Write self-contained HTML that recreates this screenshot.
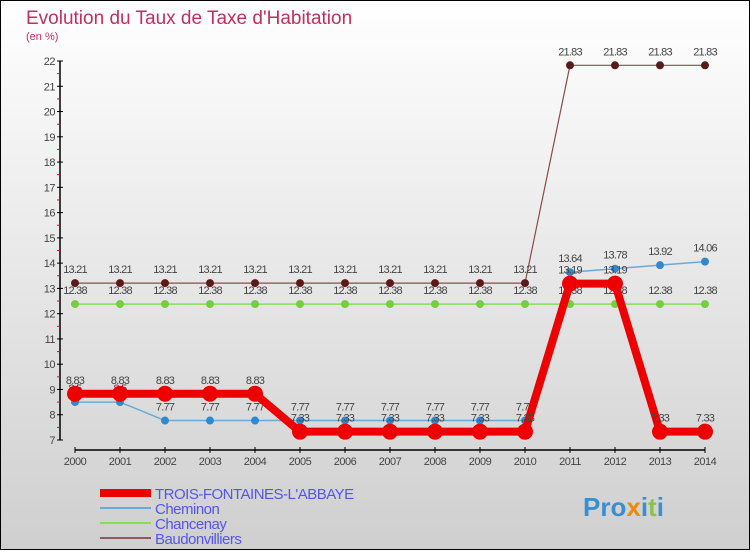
<!DOCTYPE html>
<html><head><meta charset="utf-8"><style>
html,body{margin:0;padding:0}
body{width:750px;height:550px;overflow:hidden;font-family:"Liberation Sans",sans-serif}
svg text{font-family:"Liberation Sans",sans-serif}
</style></head><body>
<svg id="chart" width="750" height="550" xmlns="http://www.w3.org/2000/svg">
<defs><linearGradient id="bg" x1="0" y1="0" x2="0" y2="1"><stop offset="0" stop-color="#ffffff"/><stop offset="1" stop-color="#cfcfcf"/></linearGradient></defs>
<rect x="0.5" y="0.5" width="749" height="549" fill="url(#bg)" stroke="#000"/>
<text x="26" y="24" font-size="19" fill="#c0305f">Evolution du Taux de Taxe d'Habitation</text>
<text x="26" y="40" font-size="11" fill="#c0305f">(en %)</text>
<g id="axes"></g>
<g id="series"></g>
<g id="legend"></g>
<text x="583" y="516" font-size="26" font-weight="bold" fill="#3a8fd0">Pro<tspan fill="#f08a00">x</tspan>i<tspan fill="#8bc34a">t</tspan>i</text>
</svg>
<script>
const years = [2000,2001,2002,2003,2004,2005,2006,2007,2008,2009,2010,2011,2012,2013,2014];
const yTicks = [7,8,9,10,11,12,13,14,15,16,17,18,19,20,21,22];
const trois = [8.83,8.83,8.83,8.83,8.83,7.33,7.33,7.33,7.33,7.33,7.33,13.19,13.19,7.33,7.33];
const cheminon = [8.5,8.5,7.77,7.77,7.77,7.77,7.77,7.77,7.77,7.77,7.77,13.64,13.78,13.92,14.06];
const chancenay = [12.38,12.38,12.38,12.38,12.38,12.38,12.38,12.38,12.38,12.38,12.38,12.38,12.38,12.38,12.38];
const baudon = [13.21,13.21,13.21,13.21,13.21,13.21,13.21,13.21,13.21,13.21,13.21,21.83,21.83,21.83,21.83];
const seriesNames = ["TROIS-FONTAINES-L'ABBAYE","Cheminon","Chancenay","Baudonvilliers"];

const NS="http://www.w3.org/2000/svg";
const xS=i=>75+i*45;
const yS=v=>440-(v-7)*(379/15);
function mk(tag,attrs,parent){const e=document.createElementNS(NS,tag);for(const k in attrs)e.setAttribute(k,attrs[k]);parent.appendChild(e);return e;}
const axes=document.getElementById('axes'),sg=document.getElementById('series'),lg=document.getElementById('legend');
let a=mk('line',{x1:60,y1:yS(22),x2:60,y2:yS(7),stroke:'#000','stroke-width':1.5},axes);


a=mk('line',{x1:xS(0),y1:450,x2:xS(14),y2:450,stroke:'#000','stroke-width':1.5},axes);


yTicks.forEach(v=>{
  mk('line',{x1:57,y1:yS(v),x2:63,y2:yS(v),stroke:'#000'},axes);
  if(v<22) mk('line',{x1:57,y1:yS(v+0.5),x2:60,y2:yS(v+0.5),stroke:'#f00'},axes);
  const t=mk('text',{x:55,y:yS(v)+4,'font-size':11,fill:'#444','text-anchor':'end','letter-spacing':'-0.5'},axes);
  t.textContent=v;
  
  
});
years.forEach((yr,i)=>{
  mk('line',{x1:xS(i),y1:447,x2:xS(i),y2:453,stroke:'#000'},axes);
  const t=mk('text',{x:xS(i),y:465,'font-size':11,fill:'#444','text-anchor':'middle','letter-spacing':'-0.5'},axes);
  t.textContent=yr;
  
  
});
function drawSeries(vals,color,w,r,dot,name){
  const g=mk('g',{},sg);
  
  
  mk('polyline',{points:vals.map((v,i)=>xS(i)+','+yS(v)).join(' '),fill:'none',stroke:color,'stroke-width':w,'stroke-linejoin':'round'},g);
  vals.forEach((v,i)=>{
    const c=mk('circle',{cx:xS(i),cy:yS(v),r:r,fill:dot},g);
    
    
    const t=mk('text',{x:xS(i),y:yS(v)-10,'font-size':11,fill:'#444','text-anchor':'middle','letter-spacing':'-0.8'},g);
    t.textContent=v;
    
    
  });
}
drawSeries(baudon,'#8b4a4a',1.2,4,'#5a1a1a','series-baudonvilliers');
drawSeries(chancenay,'#88dd55',1.5,4,'#77cc44','series-chancenay');
drawSeries(cheminon,'#6aaad8',1.5,4,'#3388cc','series-cheminon');
drawSeries(trois,'#ee0000',8,8,'#ee0000','series-trois-fontaines');
const lc=[['#ee0000',8],['#6aaad8',2],['#88dd55',2],['#8b5a5a',2]];
seriesNames.forEach((n,i)=>{
  const y=493+i*15;
  const g=mk('g',{},lg);
  
  
  mk('line',{x1:100,y1:y,x2:151,y2:y,stroke:lc[i][0],'stroke-width':lc[i][1]},g);
  const t=mk('text',{x:155,y:y+6,'font-size':15,fill:'#5555ee','letter-spacing':'-0.5'},g);
  t.textContent=n;
});
</script>
</body></html>
